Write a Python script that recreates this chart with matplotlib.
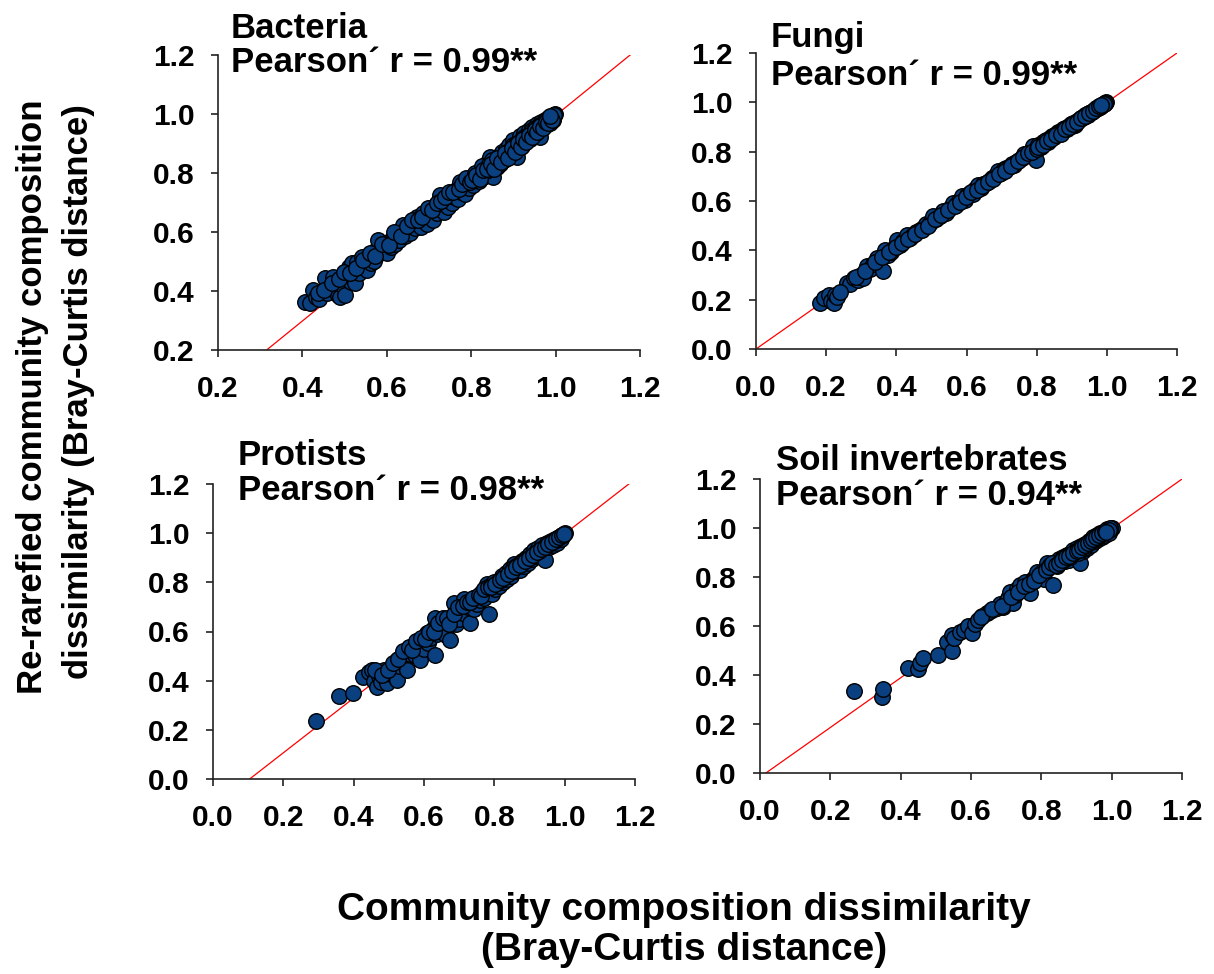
import matplotlib
matplotlib.use("Agg")
import matplotlib.pyplot as plt
import numpy as np

plt.rcParams['font.family'] = ['Liberation Sans', 'DejaVu Sans']
plt.rcParams['font.weight'] = 'bold'

# ---- data: (community dissimilarity, re-rarefied dissimilarity) ----
bacteria_x = [0.406, 0.418, 0.426, 0.432, 0.440, 0.448, 0.454, 0.458, 0.465, 0.473,
              0.478, 0.484, 0.489, 0.495, 0.501, 0.506, 0.510, 0.515, 0.517, 0.522,
              0.525, 0.530, 0.534, 0.538, 0.541, 0.546, 0.552, 0.556, 0.562, 0.566,
              0.570, 0.575, 0.580, 0.584, 0.590, 0.596, 0.600, 0.604, 0.610, 0.614,
              0.620, 0.626, 0.630, 0.636, 0.639, 0.644, 0.650, 0.656, 0.662, 0.668,
              0.671, 0.676, 0.680, 0.686, 0.690, 0.695, 0.700, 0.705, 0.710, 0.716,
              0.720, 0.726, 0.730, 0.735, 0.742, 0.746, 0.750, 0.755, 0.760, 0.764,
              0.768, 0.773, 0.776, 0.781, 0.785, 0.790, 0.795, 0.800, 0.805, 0.810,
              0.813, 0.818, 0.822, 0.827, 0.832, 0.836, 0.840, 0.845, 0.848, 0.852,
              0.856, 0.860, 0.865, 0.868, 0.873, 0.877, 0.882, 0.886, 0.890, 0.895,
              0.900, 0.904, 0.908, 0.912, 0.916, 0.920, 0.924, 0.928, 0.932, 0.936,
              0.940, 0.945, 0.948, 0.952, 0.956, 0.960, 0.963, 0.966, 0.970, 0.974,
              0.978, 0.982, 0.986, 0.990, 0.994, 0.999,
              0.436, 0.452, 0.470, 0.487, 0.498, 0.512, 0.528, 0.544, 0.560, 0.572,
              0.588, 0.606, 0.618, 0.634, 0.648, 0.660, 0.674, 0.684, 0.698, 0.708,
              0.718, 0.728, 0.738, 0.748, 0.758, 0.770, 0.778, 0.788, 0.798, 0.808,
              0.816, 0.825, 0.834, 0.842, 0.850, 0.858, 0.863, 0.870, 0.879, 0.884,
              0.892, 0.898, 0.906, 0.914, 0.918, 0.926, 0.934, 0.938, 0.943, 0.950,
              0.954, 0.958, 0.962, 0.968, 0.972, 0.976, 0.980, 0.984, 0.988, 0.992,
              0.996,
              0.802, 0.811, 0.820, 0.829, 0.838, 0.846, 0.854, 0.862, 0.871, 0.880,
              0.888, 0.896, 0.903, 0.910, 0.917, 0.923, 0.930, 0.937, 0.944, 0.951,
              0.957, 0.964, 0.971, 0.977, 0.983, 0.989, 0.995, 0.997, 0.992, 0.987]
bacteria_y = [0.364, 0.358, 0.403, 0.380, 0.372, 0.395, 0.443, 0.392, 0.412, 0.449,
              0.402, 0.388, 0.381, 0.422, 0.386, 0.458, 0.480, 0.430, 0.494, 0.445,
              0.426, 0.500, 0.462, 0.483, 0.516, 0.490, 0.471, 0.508, 0.495, 0.522,
              0.503, 0.540, 0.573, 0.528, 0.552, 0.536, 0.528, 0.566, 0.548, 0.580,
              0.560, 0.592, 0.572, 0.604, 0.624, 0.586, 0.610, 0.596, 0.628, 0.612,
              0.652, 0.630, 0.618, 0.663, 0.640, 0.628, 0.668, 0.652, 0.640, 0.690,
              0.665, 0.725, 0.684, 0.668, 0.705, 0.684, 0.725, 0.700, 0.718, 0.742,
              0.712, 0.770, 0.735, 0.754, 0.728, 0.770, 0.748, 0.782, 0.760, 0.790,
              0.799, 0.772, 0.808, 0.785, 0.822, 0.800, 0.838, 0.855, 0.815, 0.788,
              0.840, 0.820, 0.858, 0.832, 0.870, 0.845, 0.880, 0.858, 0.895, 0.866,
              0.912, 0.880, 0.855, 0.900, 0.925, 0.890, 0.935, 0.905, 0.920, 0.945,
              0.915, 0.957, 0.930, 0.942, 0.965, 0.945, 0.923, 0.972, 0.955, 0.978,
              0.962, 0.985, 0.970, 0.990, 0.980, 1.000,
              0.392, 0.405, 0.428, 0.440, 0.465, 0.462, 0.478, 0.505, 0.530, 0.520,
              0.560, 0.555, 0.600, 0.585, 0.622, 0.640, 0.640, 0.650, 0.680, 0.675,
              0.700, 0.705, 0.720, 0.735, 0.735, 0.745, 0.762, 0.782, 0.770, 0.800,
              0.790, 0.825, 0.808, 0.830, 0.845, 0.828, 0.848, 0.850, 0.862, 0.872,
              0.878, 0.895, 0.900, 0.890, 0.912, 0.922, 0.930, 0.925, 0.945, 0.952,
              0.935, 0.955, 0.962, 0.960, 0.970, 0.975, 0.972, 0.980, 0.985, 0.990,
              0.995,
              0.775, 0.792, 0.780, 0.810, 0.815, 0.832, 0.812, 0.850, 0.838, 0.868,
              0.850, 0.885, 0.872, 0.902, 0.888, 0.915, 0.905, 0.930, 0.922, 0.945,
              0.938, 0.960, 0.952, 0.974, 0.968, 0.988, 0.985, 0.998, 0.978, 0.992]

fungi_x = [0.183, 0.195, 0.207, 0.215, 0.221, 0.226, 0.232, 0.259, 0.268, 0.278,
           0.290, 0.300, 0.306, 0.316, 0.325, 0.334, 0.344, 0.352, 0.363, 0.368,
           0.375, 0.385, 0.393, 0.401, 0.410, 0.420, 0.429, 0.438, 0.447, 0.456,
           0.467, 0.476, 0.485, 0.495, 0.505, 0.514, 0.524, 0.534, 0.542, 0.552,
           0.562, 0.570, 0.578, 0.586, 0.595, 0.602, 0.609, 0.618, 0.625, 0.633,
           0.640, 0.648, 0.657, 0.665, 0.672, 0.680, 0.690, 0.698, 0.706, 0.714,
           0.722, 0.730, 0.736, 0.742, 0.750, 0.758, 0.765, 0.772, 0.780, 0.790,
           0.795, 0.799, 0.805, 0.812, 0.818, 0.825, 0.832, 0.837, 0.843, 0.850,
           0.856, 0.862, 0.868, 0.874, 0.880, 0.886, 0.892, 0.897, 0.903, 0.908,
           0.914, 0.920, 0.926, 0.932, 0.938, 0.944, 0.950, 0.956, 0.962, 0.968,
           0.974, 0.980, 0.986, 0.992, 0.998,
           0.240, 0.284, 0.312, 0.338, 0.358, 0.380, 0.398, 0.415, 0.434, 0.452,
           0.472, 0.490, 0.510, 0.528, 0.547, 0.566, 0.582, 0.598, 0.614, 0.629,
           0.644, 0.660, 0.676, 0.694, 0.710, 0.726, 0.746, 0.762, 0.776, 0.786,
           0.800, 0.815, 0.828, 0.840, 0.853, 0.866, 0.877, 0.889, 0.900, 0.911,
           0.923, 0.935, 0.947, 0.959, 0.971, 0.983, 0.995,
           0.805, 0.818, 0.830, 0.842, 0.855, 0.868, 0.880, 0.892, 0.904, 0.915,
           0.927, 0.938, 0.949, 0.960, 0.970, 0.979, 0.988, 0.996, 0.993, 0.984]
fungi_y = [0.186, 0.205, 0.220, 0.195, 0.186, 0.220, 0.212, 0.268, 0.262, 0.288,
           0.280, 0.300, 0.288, 0.335, 0.325, 0.345, 0.369, 0.352, 0.315, 0.403,
           0.380, 0.395, 0.410, 0.443, 0.420, 0.438, 0.463, 0.450, 0.462, 0.475,
           0.484, 0.490, 0.505, 0.512, 0.538, 0.525, 0.540, 0.558, 0.552, 0.570,
           0.592, 0.582, 0.600, 0.619, 0.605, 0.625, 0.632, 0.628, 0.648, 0.666,
           0.652, 0.668, 0.673, 0.680, 0.695, 0.700, 0.720, 0.712, 0.728, 0.734,
           0.738, 0.752, 0.745, 0.760, 0.768, 0.775, 0.790, 0.785, 0.800, 0.821,
           0.808, 0.767, 0.825, 0.820, 0.838, 0.845, 0.840, 0.855, 0.862, 0.858,
           0.872, 0.880, 0.875, 0.890, 0.895, 0.890, 0.905, 0.912, 0.916, 0.910,
           0.925, 0.930, 0.935, 0.940, 0.948, 0.952, 0.958, 0.960, 0.968, 0.972,
           0.978, 0.982, 0.988, 0.994, 1.000,
           0.230, 0.290, 0.318, 0.352, 0.372, 0.392, 0.412, 0.428, 0.446, 0.468,
           0.482, 0.500, 0.525, 0.545, 0.565, 0.580, 0.595, 0.615, 0.635, 0.645,
           0.662, 0.678, 0.690, 0.710, 0.722, 0.742, 0.762, 0.778, 0.795, 0.800,
           0.812, 0.832, 0.848, 0.855, 0.868, 0.878, 0.892, 0.900, 0.905, 0.918,
           0.932, 0.942, 0.950, 0.962, 0.976, 0.985, 0.996,
           0.818, 0.825, 0.845, 0.850, 0.868, 0.872, 0.890, 0.900, 0.912, 0.922,
           0.935, 0.945, 0.955, 0.966, 0.975, 0.985, 0.992, 0.998, 0.995, 0.990]

protists_x = [0.294, 0.357, 0.397, 0.426, 0.445, 0.452, 0.458, 0.466, 0.472, 0.478,
              0.485, 0.490, 0.495, 0.502, 0.508, 0.515, 0.523, 0.523, 0.530, 0.537,
              0.543, 0.552, 0.552, 0.560, 0.570, 0.575, 0.582, 0.589, 0.595, 0.600,
              0.608, 0.612, 0.618, 0.625, 0.632, 0.632, 0.638, 0.645, 0.650, 0.656,
              0.662, 0.668, 0.675, 0.680, 0.684, 0.690, 0.695, 0.700, 0.706, 0.713,
              0.718, 0.725, 0.732, 0.736, 0.742, 0.748, 0.752, 0.758, 0.765, 0.770,
              0.775, 0.779, 0.784, 0.788, 0.793, 0.798, 0.803, 0.808, 0.814, 0.820,
              0.825, 0.830, 0.836, 0.842, 0.848, 0.855, 0.860, 0.866, 0.872, 0.878,
              0.884, 0.890, 0.896, 0.902, 0.907, 0.912, 0.918, 0.924, 0.930, 0.936,
              0.941, 0.945, 0.950, 0.955, 0.960, 0.966, 0.972, 0.978, 0.984, 0.990,
              0.995, 1.002,
              0.462, 0.480, 0.498, 0.512, 0.527, 0.540, 0.556, 0.566, 0.578, 0.592,
              0.604, 0.615, 0.628, 0.641, 0.653, 0.665, 0.672, 0.686, 0.698, 0.710,
              0.722, 0.730, 0.740, 0.755, 0.762, 0.772, 0.782, 0.790, 0.800, 0.812,
              0.822, 0.833, 0.845, 0.852, 0.862, 0.875, 0.886, 0.893, 0.905, 0.915,
              0.927, 0.938, 0.948, 0.958, 0.969, 0.980, 0.992,
              0.790, 0.802, 0.815, 0.826, 0.838, 0.850, 0.862, 0.874, 0.886, 0.898,
              0.910, 0.921, 0.932, 0.943, 0.954, 0.964, 0.974, 0.983, 0.991, 0.998]
protists_y = [0.234, 0.338, 0.349, 0.414, 0.435, 0.443, 0.400, 0.376, 0.420, 0.395,
              0.443, 0.410, 0.389, 0.430, 0.455, 0.420, 0.403, 0.484, 0.460, 0.500,
              0.470, 0.443, 0.525, 0.510, 0.538, 0.505, 0.545, 0.484, 0.560, 0.530,
              0.592, 0.555, 0.575, 0.610, 0.653, 0.504, 0.590, 0.620, 0.600, 0.635,
              0.585, 0.640, 0.565, 0.655, 0.714, 0.632, 0.668, 0.650, 0.690, 0.734,
              0.672, 0.700, 0.633, 0.715, 0.690, 0.740, 0.712, 0.728, 0.760, 0.738,
              0.755, 0.795, 0.673, 0.770, 0.752, 0.790, 0.772, 0.800, 0.785, 0.815,
              0.800, 0.830, 0.812, 0.845, 0.825, 0.876, 0.845, 0.870, 0.852, 0.888,
              0.865, 0.900, 0.880, 0.915, 0.895, 0.930, 0.908, 0.940, 0.920, 0.950,
              0.930, 0.890, 0.960, 0.942, 0.968, 0.952, 0.975, 0.962, 0.985, 0.975,
              0.992, 1.000,
              0.445, 0.425, 0.445, 0.470, 0.490, 0.520, 0.535, 0.525, 0.560, 0.575,
              0.570, 0.600, 0.600, 0.635, 0.655, 0.655, 0.630, 0.670, 0.700, 0.705,
              0.720, 0.720, 0.735, 0.750, 0.745, 0.772, 0.780, 0.790, 0.800, 0.805,
              0.825, 0.840, 0.855, 0.858, 0.868, 0.880, 0.885, 0.895, 0.905, 0.918,
              0.928, 0.938, 0.948, 0.958, 0.968, 0.980, 0.992,
              0.782, 0.795, 0.810, 0.818, 0.835, 0.845, 0.862, 0.870, 0.888, 0.898,
              0.912, 0.922, 0.935, 0.945, 0.956, 0.966, 0.976, 0.985, 0.993, 0.998]

soil_x = [0.268, 0.346, 0.351, 0.422, 0.450, 0.455, 0.463, 0.507, 0.531, 0.545,
          0.545, 0.552, 0.569, 0.580, 0.592, 0.602, 0.612, 0.621, 0.632, 0.645,
          0.655, 0.665, 0.673, 0.682, 0.692, 0.700, 0.705, 0.711, 0.720, 0.726,
          0.732, 0.739, 0.745, 0.753, 0.760, 0.768, 0.775, 0.782, 0.787, 0.795,
          0.802, 0.808, 0.815, 0.820, 0.826, 0.834, 0.838, 0.845, 0.850, 0.856,
          0.862, 0.868, 0.873, 0.878, 0.884, 0.891, 0.896, 0.902, 0.910, 0.914,
          0.918, 0.924, 0.930, 0.936, 0.942, 0.948, 0.952, 0.957, 0.962, 0.967,
          0.972, 0.977, 0.982, 0.987, 0.992, 1.000,
          0.628, 0.660, 0.688, 0.715, 0.735, 0.750, 0.765, 0.778, 0.792, 0.812,
          0.822, 0.830, 0.842, 0.852, 0.858, 0.866, 0.876, 0.882, 0.888, 0.898,
          0.905, 0.912, 0.920, 0.927, 0.933, 0.940, 0.945, 0.950, 0.955, 0.960,
          0.965, 0.970, 0.975, 0.980, 0.985, 0.990, 0.995,
          0.850, 0.860, 0.870, 0.880, 0.890, 0.900, 0.908, 0.916, 0.924, 0.932,
          0.940, 0.948, 0.956, 0.964, 0.972, 0.980, 0.988, 0.996, 0.993, 0.984]
soil_y = [0.333, 0.312, 0.342, 0.428, 0.424, 0.448, 0.469, 0.482, 0.536, 0.564,
          0.496, 0.550, 0.577, 0.585, 0.598, 0.571, 0.610, 0.625, 0.640, 0.652,
          0.660, 0.668, 0.672, 0.690, 0.679, 0.700, 0.715, 0.740, 0.693, 0.725,
          0.750, 0.767, 0.745, 0.781, 0.760, 0.733, 0.790, 0.800, 0.822, 0.805,
          0.820, 0.790, 0.856, 0.838, 0.850, 0.767, 0.860, 0.845, 0.872, 0.860,
          0.880, 0.865, 0.888, 0.870, 0.900, 0.910, 0.890, 0.918, 0.856, 0.925,
          0.905, 0.935, 0.920, 0.945, 0.930, 0.964, 0.945, 0.970, 0.955, 0.978,
          0.962, 0.985, 0.970, 0.990, 0.978, 1.000,
          0.635, 0.670, 0.680, 0.720, 0.740, 0.765, 0.770, 0.785, 0.810, 0.830,
          0.840, 0.858, 0.850, 0.860, 0.875, 0.872, 0.890, 0.882, 0.895, 0.905,
          0.900, 0.915, 0.920, 0.930, 0.940, 0.945, 0.950, 0.955, 0.960, 0.962,
          0.970, 0.975, 0.980, 0.985, 0.988, 0.992, 0.996,
          0.858, 0.868, 0.880, 0.886, 0.898, 0.905, 0.912, 0.922, 0.930, 0.938,
          0.948, 0.955, 0.962, 0.972, 0.980, 0.986, 0.994, 0.998, 0.990, 0.982]

# fitted lines (slope, intercept) and correlation labels
panel_names = ["Bacteria", "Fungi", "Protists", "Soil invertebrates"]
pearson_r = ["0.99", "0.99", "0.98", "0.94"]
fit_slope = [1.161, 1.000, 1.113, 1.014]
fit_intercept = [-0.166, 0.000, -0.116, -0.017]
axis_min = [0.2, 0.0, 0.0, 0.0]

series = [(bacteria_x, bacteria_y), (fungi_x, fungi_y),
          (protists_x, protists_y), (soil_x, soil_y)]

W, H = 1214, 974
fig = plt.figure(figsize=(W / 100, H / 100), dpi=100)

# axes boxes in pixels: left, top, right, bottom
boxes = [(218, 55, 640, 350), (756, 53, 1177, 349),
         (213, 484, 635, 779), (760, 479, 1182, 773)]
# title text positions: x, baseline of name, baseline of r line
title_pos = [(231, 38, 72), (771, 47, 85), (238, 465, 500), (776, 470, 505)]

point_color = '#0a4080'

for i, (xs, ys) in enumerate(series):
    l, t, r, b = boxes[i]
    ax = fig.add_axes([l / W, 1 - b / H, (r - l) / W, (b - t) / H])
    lo = axis_min[i]
    ax.set_xlim(lo, 1.2)
    ax.set_ylim(lo, 1.2)
    ticks = np.round(np.arange(lo, 1.2001, 0.2), 1)
    ax.set_xticks(ticks)
    ax.set_yticks(ticks)
    ax.set_xticklabels([f"{v:.1f}" for v in ticks])
    ax.set_yticklabels([f"{v:.1f}" for v in ticks])
    for side in ("top", "right"):
        ax.spines[side].set_visible(False)
    for side in ("left", "bottom"):
        ax.spines[side].set_linewidth(1.2)
        ax.spines[side].set_color('#222222')
    ax.tick_params(direction='out', length=5, width=1.2, color='#222222',
                   labelsize=21.5)
    ax.tick_params(axis='y', pad=12)
    ax.tick_params(axis='x', pad=13)
    for lab in ax.get_xticklabels() + ax.get_yticklabels():
        lab.set_fontweight('bold')

    # regression line across the plotting range
    s, c = fit_slope[i], fit_intercept[i]
    x0 = max(lo, (lo - c) / s)
    x1 = min(1.2, (1.2 - c) / s)
    ax.plot([x0, x1], [s * x0 + c, s * x1 + c], color='#ff0000', lw=0.9, zorder=2)

    ax.scatter(xs, ys, s=125, color=point_color, edgecolors='black',
               linewidths=1.0, zorder=3, clip_on=False)

    tx, by1, by2 = title_pos[i]
    fig.text(tx / W, 1 - by1 / H, panel_names[i], fontsize=25,
             fontweight='bold', va='baseline', ha='left')
    fig.text(tx / W, 1 - by2 / H, f"Pearson\u00b4 r = {pearson_r[i]}**",
             fontsize=25, fontweight='bold', va='baseline', ha='left')

# shared axis titles
fig.text(33 / W, 1 - 397 / H, "Re-rarefied community composition",
         rotation=90, fontsize=25, fontweight='bold', ha='center', va='center')
fig.text(79 / W, 1 - 392 / H, "dissimilarity (Bray-Curtis distance)",
         rotation=90, fontsize=25, fontweight='bold', ha='center', va='center')
fig.text(684 / W, 1 - 910 / H, "Community composition dissimilarity",
         fontsize=28, fontweight='bold', ha='center', va='center')
fig.text(684 / W, 1 - 950 / H, "(Bray-Curtis distance)",
         fontsize=28, fontweight='bold', ha='center', va='center')

fig.savefig("out.png", dpi=100)
